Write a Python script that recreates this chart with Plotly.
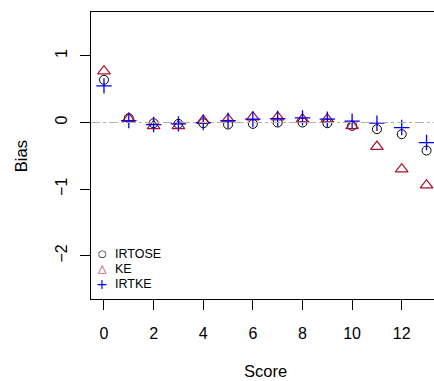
import plotly.graph_objects as go

scores = list(range(0, 14))
irtose = [0.64, 0.065, -0.01, -0.02, -0.01, -0.03, -0.02, 0.0, 0.0, -0.01, -0.05, -0.10, -0.175, -0.42]
ke = [0.77, 0.06, -0.05, -0.05, 0.03, 0.05, 0.08, 0.08, 0.05, 0.05, -0.05, -0.36, -0.70, -0.94]
irtke = [0.55, 0.03, -0.03, -0.02, 0.0, 0.03, 0.05, 0.06, 0.07, 0.05, 0.02, -0.01, -0.075, -0.30]

series_names = ["IRTOSE", "KE", "IRTKE"]
series_colors = ["black", "#a8102a", "#0000ff"]
legend_glyphs = ["\u25cb", "\u25b3", "+"]

x_ticks = [0, 2, 4, 6, 8, 10, 12]
y_ticks = [-2, -1, 0, 1]
y_tick_text = ["\u22122", "\u22121", "0", "1"]

W, H = 434, 381
L, R, T, B = 90.7, 0, 12.3, 82
PW, PH = W - L - R, H - T - B


def px_x(px):
    return (px - L) / PW


def px_y(py):
    return (H - B - py) / PH


fig = go.Figure()
fig.add_hline(y=0, line=dict(color="#b0b0b0", width=1, dash="dashdot"))

fig.add_trace(go.Scatter(x=scores, y=irtose, mode="markers", name=series_names[0], showlegend=False,
                         marker=dict(symbol="circle-open", size=9, color=series_colors[0],
                                     line=dict(width=1, color=series_colors[0]))))
fig.add_trace(go.Scatter(x=scores, y=ke, mode="markers", name=series_names[1], showlegend=False,
                         marker=dict(symbol="triangle-up-open", size=11, color=series_colors[1],
                                     line=dict(width=1.2, color=series_colors[1]))))
fig.add_trace(go.Scatter(x=scores, y=irtke, mode="markers", name=series_names[2], showlegend=False,
                         marker=dict(symbol="cross-thin-open", size=11, color=series_colors[2],
                                     line=dict(width=1.3, color=series_colors[2]))))

font = "Liberation Sans, Arial, Helvetica, sans-serif"
annotations = [
    dict(text="Score", xref="paper", yref="paper", x=px_x(265), y=px_y(371),
         xanchor="center", yanchor="middle", showarrow=False, font=dict(size=16.5)),
    dict(text="Bias", xref="paper", yref="paper", x=px_x(20), y=px_y(156),
         xanchor="center", yanchor="middle", showarrow=False, textangle=-90, font=dict(size=16.5)),
]
glyph_sizes = [10, 11, 14]
for i, (name, col, g) in enumerate(zip(series_names, series_colors, legend_glyphs)):
    yy = 254 + 15 * i
    annotations.append(dict(text=g, xref="paper", yref="paper", x=px_x(102), y=px_y(yy),
                            xanchor="center", yanchor="middle", showarrow=False,
                            font=dict(size=glyph_sizes[i], color=col, family="DejaVu Sans")))
    annotations.append(dict(text=name, xref="paper", yref="paper", x=px_x(113), y=px_y(yy),
                            xanchor="left", yanchor="middle", showarrow=False,
                            font=dict(size=12.5, color="black")))

fig.update_layout(
    width=W, height=H,
    margin=dict(l=L, r=R, t=T, b=B, pad=0),
    paper_bgcolor="white", plot_bgcolor="white",
    font=dict(family=font, size=16, color="black"),
    showlegend=False,
    xaxis=dict(range=[-0.523, 13.30], tickmode="array", tickvals=x_ticks,
               ticks="outside", ticklen=10, tickcolor="black", tickwidth=1,
               showline=True, linecolor="black", linewidth=1, mirror=True,
               showgrid=False, zeroline=False, ticklabelstandoff=10,
               tickfont=dict(size=16)),
    yaxis=dict(range=[-2.647, 1.658], tickmode="array", tickvals=y_ticks, ticktext=y_tick_text,
               ticks="outside", ticklen=10, tickcolor="black", tickwidth=1,
               showline=True, linecolor="black", linewidth=1, mirror=False,
               showgrid=False, zeroline=False, tickangle=-90, ticklabelstandoff=7,
               tickfont=dict(size=16)),
    annotations=annotations,
)

fig.write_html("out.html")
